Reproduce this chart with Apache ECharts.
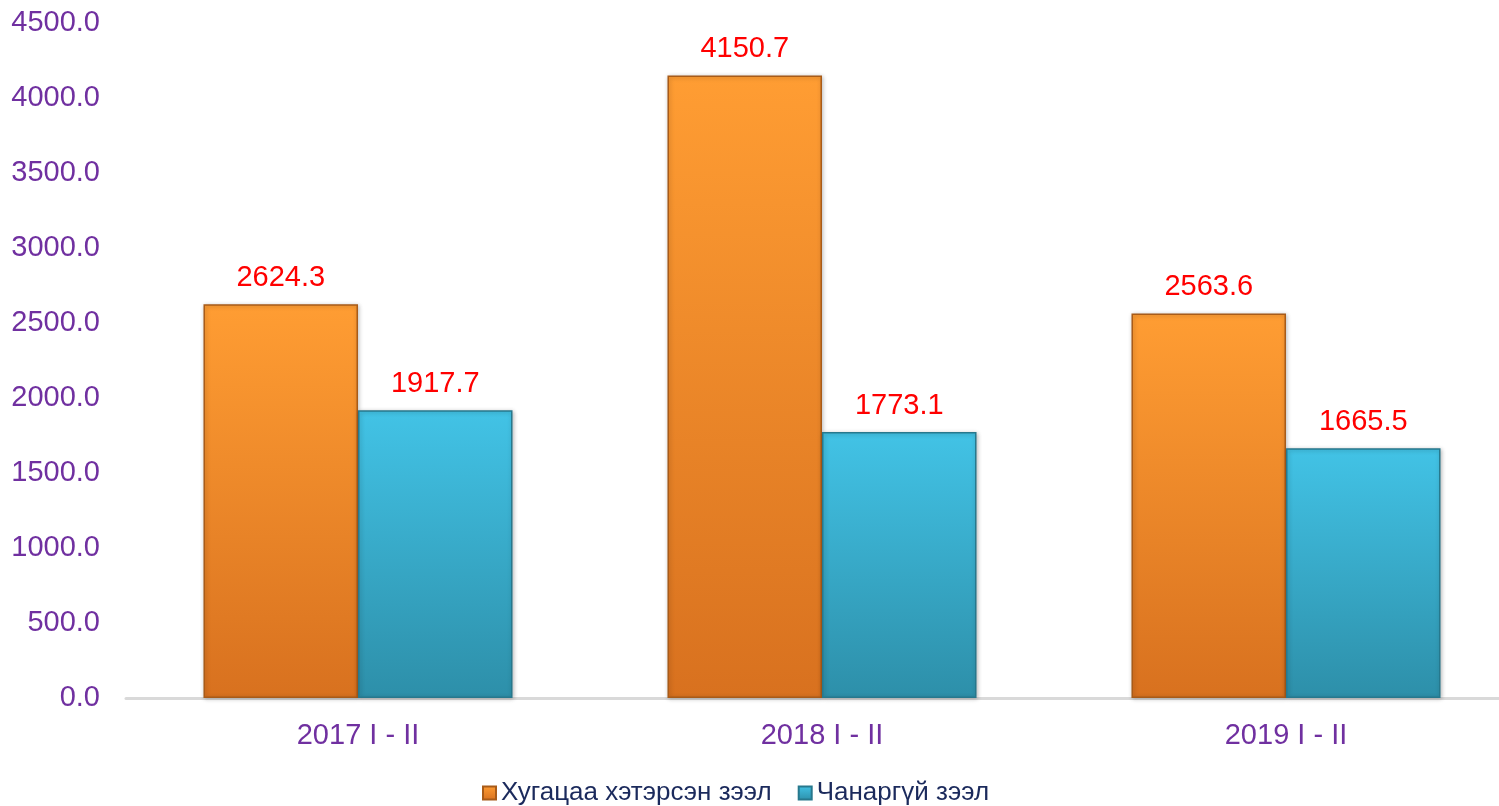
<!DOCTYPE html>
<html>
<head>
<meta charset="utf-8">
<script src="https://cdn.jsdelivr.net/npm/echarts@6/dist/echarts.min.js"></script>
<style>
  html, body { margin: 0; padding: 0; background: #fff; overflow: hidden; }
  #chart { width: 1518px; height: 806px; }
</style>
</head>
<body>
<div id="chart"></div>
<script>
var categories = ['2017 I - II', '2018 I - II', '2019 I - II'];
var overdue = [2624.3, 4150.7, 2563.6];
var nonPerforming = [1917.7, 1773.1, 1665.5];
var seriesNames = ['Хугацаа хэтэрсэн зээл', 'Чанаргүй зээл'];

function grad(top, bottom) {
    return new echarts.graphic.LinearGradient(0, 0, 0, 1, [
        { offset: 0, color: top },
        { offset: 1, color: bottom }
    ]);
}

var purple = '#7030A0';
var font = 'Liberation Sans, Arial, sans-serif';

// plot area runs slightly past the right edge of the window, like the original
var option = {
    backgroundColor: '#fff',
    textStyle: { fontFamily: font },
    grid: { left: 126, right: 0, top: 23, bottom: 108, containLabel: false },
    legend: {
        data: seriesNames,
        left: 477,
        top: 775,
        icon: 'rect',
        itemWidth: 13,
        itemHeight: 13,
        itemGap: 26,
        textStyle: { color: '#1B2A5C', fontSize: 26, fontFamily: font }
    },
    xAxis: {
        type: 'category',
        data: categories,
        axisLine: { show: true, lineStyle: { color: '#D9D9D9', width: 3 } },
        axisTick: { show: false },
        axisLabel: { color: purple, fontSize: 29, margin: 23, fontFamily: font }
    },
    yAxis: {
        type: 'value',
        min: 0,
        max: 4500,
        interval: 500,
        splitLine: { show: false },
        axisLine: { show: false },
        axisTick: { show: false },
        axisLabel: {
            color: purple, fontSize: 29, margin: 26, fontFamily: font,
            formatter: function (v) { return v.toFixed(1); }
        }
    },
    series: [{
        name: seriesNames[0],
        type: 'bar',
        data: overdue,
        barGap: '0%',
        barCategoryGap: '33.4%',
        itemStyle: {
            color: grad('#FF9D33', '#D8711F'),
            borderColor: '#A85B18',
            borderWidth: 1.5,
            shadowColor: 'rgba(0,0,0,0.25)',
            shadowBlur: 4,
            shadowOffsetX: 1,
            shadowOffsetY: 1
        },
        label: {
            show: true, position: 'top', distance: 12,
            color: '#FF0000', fontSize: 29, fontFamily: font,
            formatter: function (p) { return p.value.toFixed(1); }
        }
    }, {
        name: seriesNames[1],
        type: 'bar',
        data: nonPerforming,
        itemStyle: {
            color: grad('#42C3E6', '#2D8FA9'),
            borderColor: '#27788D',
            borderWidth: 1.5,
            shadowColor: 'rgba(0,0,0,0.25)',
            shadowBlur: 4,
            shadowOffsetX: 1,
            shadowOffsetY: 1
        },
        label: {
            show: true, position: 'top', distance: 12,
            color: '#FF0000', fontSize: 29, fontFamily: font,
            formatter: function (p) { return p.value.toFixed(1); }
        }
    }]
};

var myChart = echarts.init(document.getElementById('chart'));
myChart.setOption(option);
</script>
</body>
</html>
